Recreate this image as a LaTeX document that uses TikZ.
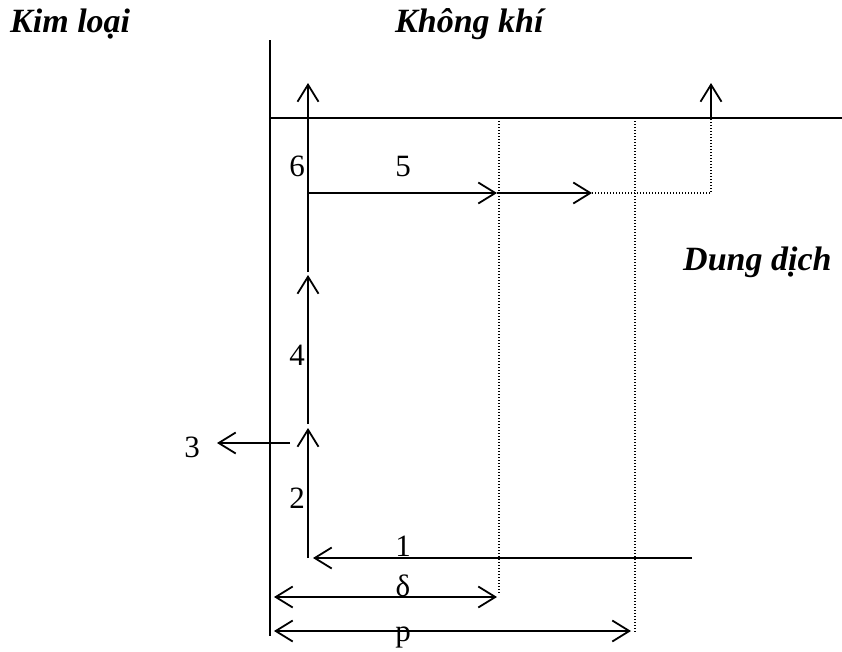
\documentclass[tikz,border=0pt]{standalone}
\usepackage{fontspec}
\setmainfont{Liberation Serif}
\usetikzlibrary{arrows.meta}
\tikzset{
  wall/.style={line width=2pt},
  barb/.tip={Straight Barb[length=17pt,width=21pt,line width=1.8pt]},
  arr/.style={line width=1.8pt,-barb},
  darr/.style={line width=1.8pt,barb-barb},
  dotline/.style={line width=1.3pt,dash pattern=on 1.3pt off 1.7pt},
  title/.style={inner sep=0pt,anchor=base west,font=\fontsize{34}{40}\selectfont\bfseries\itshape},
  num/.style={inner sep=0pt,font=\fontsize{31}{36}\selectfont},
}
\begin{document}
\begin{tikzpicture}[x=1pt,y=-1pt]
\useasboundingbox (0,0) rectangle (842,651);
% titles
\node[title] (kim) at (10,32) {Kim loại};
\node[title] (air) at (395,32) {Không khí};
\node[title] (dd) at (683,270) {Dung dịch};
% coordinates
\coordinate (mt) at (270,40);
\coordinate (mb) at (270,636);
\coordinate (al) at (270,118);
\coordinate (ar) at (842,118);
\coordinate (s6) at (308,272);
\coordinate (t6) at (308,83);
\coordinate (s5) at (308,193);
\coordinate (t5a) at (497,193);
\coordinate (t5b) at (592,193);
\coordinate (c5) at (711,193);
\coordinate (s7) at (711,118);
\coordinate (t7) at (711,83);
\coordinate (d1t) at (499,118);
\coordinate (d1b) at (499,593);
\coordinate (d2t) at (635,118);
\coordinate (d2b) at (635,633);
\coordinate (s4) at (308,424);
\coordinate (t4) at (308,275);
\coordinate (s2) at (308,558);
\coordinate (t2) at (308,428);
\coordinate (s3) at (290,443);
\coordinate (t3) at (217,443);
\coordinate (s1) at (692,558);
\coordinate (t1) at (313,558);
\coordinate (dl) at (274,597);
\coordinate (dr) at (497,597);
\coordinate (pl) at (274,631);
\coordinate (pr) at (631,631);
% interfaces
\draw[wall] (mt) -- (mb);
\draw[wall] (al) -- (ar);
% dotted guides
\draw[dotline] (d1t) -- (d1b);
\draw[dotline] (d2t) -- (d2b);
\draw[dotline] (t5b) -- (c5) -- (s7);
% arrows
\draw[arr] (s6) -- (t6);
\draw[arr] (s5) -- (t5a);
\draw[arr] (t5a) -- (t5b);
\draw[arr] (s7) -- (t7);
\draw[arr] (s4) -- (t4);
\draw[arr] (s2) -- (t2);
\draw[arr] (s3) -- (t3);
\draw[arr] (s1) -- (t1);
\draw[darr] (dl) -- (dr);
\draw[darr] (pl) -- (pr);
% labels
\node[num] (n6) at (297,166) {6};
\node[num] (n5) at (403,166) {5};
\node[num] (n4) at (297,355) {4};
\node[num] (n3) at (192,447) {3};
\node[num] (n2) at (297,498) {2};
\node[num,anchor=base] (n1) at (403,556) {1};
\node[num,anchor=base] (nd) at (403,596) {δ};
\node[num,anchor=base] (np) at (403,641) {p};
\end{tikzpicture}
\end{document}
